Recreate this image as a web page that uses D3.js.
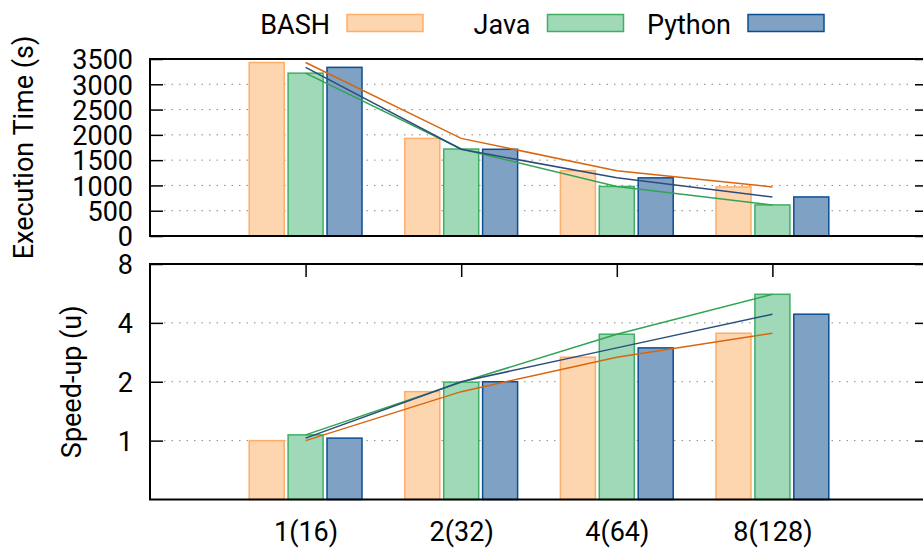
<!DOCTYPE html>
<html>
<head>
<meta charset="utf-8">
<script src="https://cdn.jsdelivr.net/npm/d3@7"></script>
<style>
  body { margin: 0; background: #fff; }
  text { font-family: Roboto, "Liberation Sans", sans-serif; fill: #000; }
</style>
</head>
<body>
<div id="chart"></div>
<script>
// DATA
const categories = ["1(16)", "2(32)", "4(64)", "8(128)"];
const languages = ["BASH", "Java", "Python"];

// execution time in seconds
const timeBash = [3430, 1930, 1290, 970];
const timeJava = [3220, 1720, 980, 615];
const timePython = [3335, 1715, 1150, 772];

// speed-up (log2 axis)
const speedBash = [1.0, 1.78, 2.67, 3.54];
const speedJava = [1.07, 1.99, 3.5, 5.6];
const speedPython = [1.03, 2.0, 2.98, 4.43];

const timeTicks = [0, 500, 1000, 1500, 2000, 2500, 3000, 3500];
const speedTicks = [1, 2, 4, 8];

const fills = {BASH: "#fdd6b0", Java: "#a0d9b8", Python: "#7fa1c4"};
const strokes = {BASH: "#fdae6b", Java: "#41ae64", Python: "#0b4f93"};
const lineColors = {BASH: "#d9650e", Java: "#31a354", Python: "#2c4d7c"};

const timeSeries = {BASH: timeBash, Java: timeJava, Python: timePython};
const speedSeries = {BASH: speedBash, Java: speedJava, Python: speedPython};

// CONSTANTS
const width = 923, height = 549;
const left = 150, right = 928;
const fontSize = 27;

// SCALES
const xScale = d3.scaleLinear().domain([-1, 4]).range([left, right]);
const subScale = d3.scaleBand().domain(languages).range([-0.375, 0.375])
    .paddingInner(0.1).paddingOuter(0.05);
const barW = xScale(subScale.bandwidth()) - xScale(0);

const yTop = d3.scaleLinear().domain([0, 3500]).range([236, 59]);
const yBot = d3.scaleLog().base(2).domain([0.5, 8]).range([499.5, 264]);

// SVG
const svg = d3.select("#chart").append("svg")
    .attr("width", width)
    .attr("height", height)
    .style("background-color", "white");

function panel(yScale, ticks, series, grid, tickFmt, showTopTicks) {
    const y0 = yScale.range()[0], y1 = yScale.range()[1];
    const g = svg.append("g");

    // gridlines
    g.selectAll("line.grid")
        .data(grid)
        .join("line")
        .attr("class", "grid")
        .attr("x1", left + 14).attr("x2", right - 14)
        .attr("y1", d => yScale(d)).attr("y2", d => yScale(d))
        .attr("stroke", "#8a8a8a")
        .attr("stroke-width", 1)
        .attr("stroke-dasharray", "1.5,6");

    // left axis, ticks pointing inward
    const yAxisL = g.append("g")
        .attr("transform", `translate(${left},0)`)
        .call(d3.axisLeft(yScale).tickValues(ticks).tickSize(-13).tickPadding(17).tickFormat(tickFmt));
    yAxisL.select(".domain").remove();
    yAxisL.selectAll("line").attr("stroke", "#000").attr("stroke-width", 1.5);
    yAxisL.selectAll("text").style("font-size", fontSize + "px").attr("dy", "0.36em");

    // right axis, no labels
    const yAxisR = g.append("g")
        .attr("transform", `translate(${right},0)`)
        .call(d3.axisRight(yScale).tickValues(ticks).tickSize(-13).tickFormat(""));
    yAxisR.select(".domain").remove();
    yAxisR.selectAll("line").attr("stroke", "#000").attr("stroke-width", 1.5);

    if (showTopTicks) {
        const xt = g.append("g")
            .attr("transform", `translate(0,${y1})`)
            .call(d3.axisTop(xScale).tickValues([0, 1, 2, 3]).tickSize(-13).tickFormat(""));
        xt.select(".domain").remove();
        xt.selectAll("line").attr("stroke", "#000").attr("stroke-width", 1.5);
        const xb = g.append("g")
            .attr("transform", `translate(0,${y0})`)
            .call(d3.axisBottom(xScale).tickValues([0, 1, 2, 3]).tickSize(-13).tickFormat(""));
        xb.select(".domain").remove();
        xb.selectAll("line").attr("stroke", "#000").attr("stroke-width", 1.5);
    }

    // BARS
    languages.forEach(lang => {
        g.selectAll("rect.bar-" + lang)
            .data(series[lang])
            .join("rect")
            .attr("class", "bar-" + lang)
            .attr("x", (d, i) => xScale(i + subScale(lang)))
            .attr("y", d => yScale(d))
            .attr("width", barW)
            .attr("height", d => y0 - yScale(d))
            .attr("fill", fills[lang])
            .attr("stroke", strokes[lang])
            .attr("stroke-width", 1.5);
    });

    // LINES
    languages.forEach(lang => {
        const line = d3.line()
            .x((d, i) => xScale(i))
            .y(d => yScale(d));
        g.append("path")
            .datum(series[lang])
            .attr("fill", "none")
            .attr("stroke", lineColors[lang])
            .attr("stroke-width", 1.5)
            .attr("d", line);
    });

    // border
    g.append("rect")
        .attr("x", left).attr("y", y1)
        .attr("width", right - left).attr("height", y0 - y1)
        .attr("fill", "none")
        .attr("stroke", "#000")
        .attr("stroke-width", 2);
    return g;
}

panel(yTop, timeTicks, timeSeries, [500, 1000, 1500, 2000, 2500, 3000], d3.format("d"), false);
panel(yBot, speedTicks, speedSeries, [1, 2, 4], d3.format("d"), true);

// X AXIS LABELS
const xAxisGroup = svg.append("g")
    .attr("transform", `translate(0,${yBot.range()[0]})`)
    .call(d3.axisBottom(xScale).tickValues([0, 1, 2, 3]).tickSize(0).tickPadding(22)
        .tickFormat(i => categories[i]));
xAxisGroup.select(".domain").remove();
xAxisGroup.selectAll("text").style("font-size", fontSize + "px");

// AXIS TITLES
svg.append("text")
    .attr("transform", `translate(33,${(yTop.range()[0] + yTop.range()[1]) / 2}) rotate(-90)`)
    .attr("text-anchor", "middle")
    .style("font-size", fontSize + "px")
    .text("Execution Time (s)");

svg.append("text")
    .attr("transform", `translate(81,${(yBot.range()[0] + yBot.range()[1]) / 2}) rotate(-90)`)
    .attr("text-anchor", "middle")
    .style("font-size", fontSize + "px")
    .text("Speed-up (u)");

// LEGEND
const legendX = d3.scaleLinear().domain([0, 2]).range([347, 748]);
const legend = svg.append("g").attr("class", "legend");
languages.forEach((lang, i) => {
    legend.append("rect")
        .attr("x", legendX(i)).attr("y", 14.5)
        .attr("width", 76).attr("height", 17)
        .attr("fill", fills[lang])
        .attr("stroke", strokes[lang])
        .attr("stroke-width", 1.5);
    legend.append("text")
        .attr("x", legendX(i) - 17).attr("y", 34)
        .attr("text-anchor", "end")
        .style("font-size", fontSize + "px")
        .text(lang);
});
</script>
</body>
</html>
